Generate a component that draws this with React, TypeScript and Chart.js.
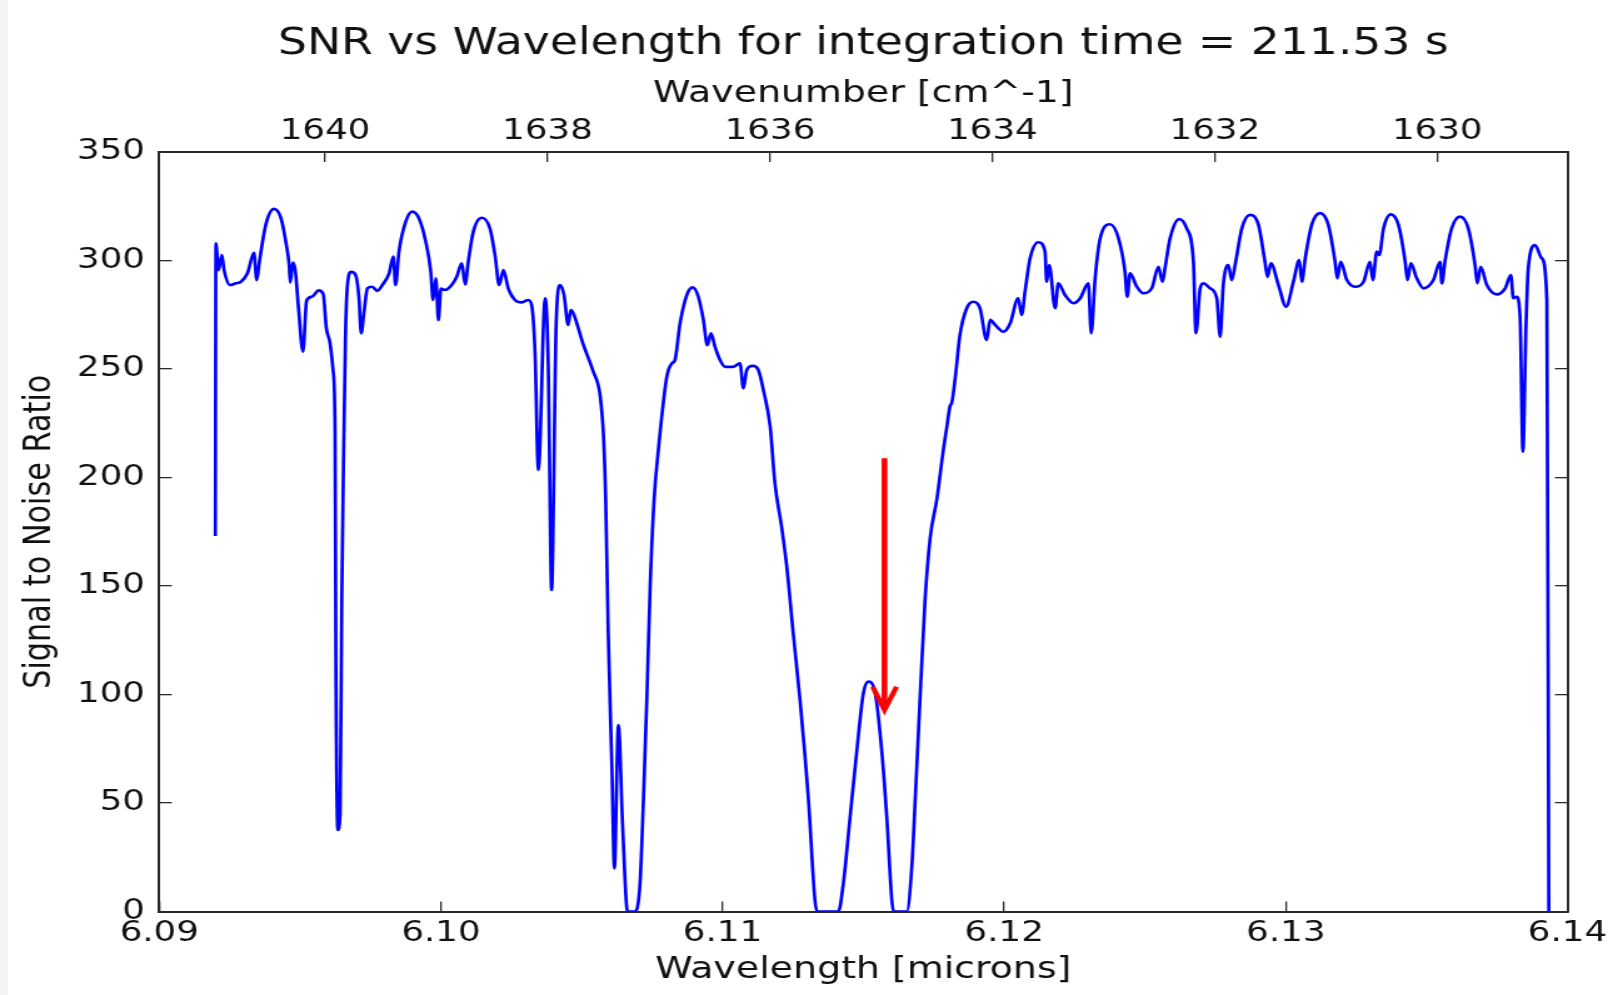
import React, { useEffect, useRef } from "react";
import { Chart, registerables } from "chart.js";

Chart.register(...registerables);

// ---------- DATA ----------
const WAVELENGTH = [
  6.09199, 6.09201, 6.0921, 6.09222, 6.0923, 6.09251, 6.09272, 6.0929, 6.09313, 6.09336,
  6.09346, 6.09356, 6.09379, 6.09407, 6.09432, 6.0945, 6.09461, 6.09465, 6.09474, 6.09483,
  6.09494, 6.0951, 6.09523, 6.09542, 6.09566, 6.09582, 6.09593, 6.09606, 6.09617, 6.09624,
  6.09627, 6.09634, 6.09642, 6.09648, 6.09654, 6.09661, 6.09668, 6.09681, 6.09697, 6.09709,
  6.09717, 6.09727, 6.09739, 6.09756, 6.09774, 6.09792, 6.09816, 6.09831, 6.09839, 6.09851,
  6.09875, 6.09898, 6.09922, 6.09946, 6.09964, 6.09972, 6.09982, 6.09991, 6.1, 6.10015,
  6.10038, 6.10056, 6.10074, 6.10086, 6.10097, 6.10115, 6.10145, 6.10174, 6.10192, 6.10207,
  6.10222, 6.10239, 6.10263, 6.10287, 6.1031, 6.10322, 6.10334, 6.10346, 6.1037, 6.10381,
  6.10393, 6.10409, 6.10423, 6.10437, 6.10452, 6.10461, 6.1047, 6.10506, 6.10541, 6.10565,
  6.10577, 6.10585, 6.10594, 6.10607, 6.10616, 6.1063, 6.10645, 6.1066, 6.10664, 6.10689,
  6.10707, 6.10719, 6.10731, 6.10743, 6.10757, 6.10772, 6.10802, 6.1082, 6.10831, 6.10849,
  6.10873, 6.10894, 6.10914, 6.10932, 6.10946, 6.10959, 6.10973, 6.10991, 6.11009, 6.11038,
  6.11062, 6.11074, 6.11086, 6.11107, 6.11127, 6.11145, 6.11169, 6.11186, 6.1121, 6.11228,
  6.11251, 6.11275, 6.11305, 6.11328, 6.11336, 6.11411, 6.11429, 6.11453, 6.11477, 6.115,
  6.11518, 6.11542, 6.11565, 6.11583, 6.11601, 6.11607, 6.11654, 6.11672, 6.11684, 6.11701,
  6.11719, 6.11737, 6.11761, 6.11784, 6.11796, 6.11808, 6.11814, 6.11826, 6.11843, 6.11867,
  6.11891, 6.11914, 6.11938, 6.1195, 6.11968, 6.11997, 6.12021, 6.1205, 6.12062, 6.12074,
  6.12092, 6.12121, 6.12145, 6.12151, 6.1216, 6.12181, 6.12192, 6.12216, 6.12246, 6.1227,
  6.12299, 6.12309, 6.12323, 6.12341, 6.12376, 6.12406, 6.12429, 6.12437, 6.12447, 6.12471,
  6.12494, 6.12524, 6.12548, 6.12562, 6.12571, 6.12589, 6.12622, 6.12648, 6.12672, 6.12681,
  6.12696, 6.12707, 6.12731, 6.12755, 6.12767, 6.12778, 6.12796, 6.12808, 6.1282, 6.12844,
  6.12873, 6.12903, 6.12926, 6.12935, 6.12947, 6.12974, 6.13001, 6.13027, 6.13048, 6.13057,
  6.13069, 6.13092, 6.13122, 6.13151, 6.13175, 6.13183, 6.13195, 6.13217, 6.13246, 6.13276,
  6.13299, 6.13309, 6.13323, 6.13332, 6.13347, 6.13373, 6.134, 6.13424, 6.13432, 6.13444,
  6.13465, 6.13489, 6.13524, 6.13548, 6.13554, 6.13566, 6.13589, 6.13619, 6.13648, 6.13672,
  6.1368, 6.13692, 6.13714, 6.13749, 6.13779, 6.13799, 6.13808, 6.1382, 6.13832, 6.13842,
  6.13853, 6.13861, 6.13885, 6.13909, 6.13927, 6.13934,
];

const SNR = [
  173.0, 307.9, 295.6, 302.5, 295.6, 288.7, 289.5, 290.2, 294.1, 303.5,
  291.0, 300.0, 317.0, 323.8, 319.5, 308.0, 298.0, 289.8, 299.0, 295.2,
  278.5, 258.0, 281.5, 283.3, 286.2, 284.5, 269.0, 262.0, 249.5, 222.0,
  113.0, 37.6, 45.3, 143.5, 206.5, 265.0, 288.5, 294.8, 293.3, 282.6,
  266.5, 276.4, 287.2, 287.9, 286.0, 288.7, 294.1, 301.8, 288.7, 304.1,
  317.9, 322.5, 319.4, 308.7, 294.8, 281.8, 291.8, 272.5, 287.0, 286.4,
  288.7, 292.5, 298.7, 289.0, 299.4, 313.3, 319.7, 314.8, 302.5, 288.7,
  295.6, 287.2, 281.8, 280.7, 281.8, 279.5, 258.0, 203.5, 282.6, 252.6,
  148.2, 270.0, 288.7, 284.1, 270.3, 277.2, 275.7, 261.1, 248.8, 238.0,
  219.6, 190.0, 128.2, 66.7, 19.9, 85.9, 40.0, 1.5, 0, 0,
  13.0, 51.4, 97.5, 150.0, 190.0, 212.7, 246.4, 252.6, 254.1, 271.0,
  284.1, 287.6, 283.3, 272.6, 261.0, 266.4, 260.3, 254.1, 251.0, 251.0,
  252.6, 241.1, 249.5, 251.4, 249.5, 240.3, 223.4, 197.3, 177.0, 158.9,
  128.2, 97.5, 51.4, 5.3, 0, 0, 13.0, 43.7, 74.4, 100.6,
  105.9, 100.6, 74.4, 43.7, 5.3, 0, 0, 20.6, 51.4, 97.5,
  143.5, 172.0, 190.0, 212.7, 223.0, 233.0, 234.5, 245.7, 265.7, 278.0,
  281.0, 278.0, 263.4, 272.6, 270.3, 267.2, 271.0, 282.6, 274.9, 285.6,
  301.0, 308.4, 304.1, 290.2, 297.9, 278.0, 289.5, 284.1, 280.3, 282.6,
  289.5, 266.5, 291.8, 310.2, 316.7, 310.2, 294.8, 283.3, 294.1, 287.9,
  284.9, 287.2, 297.1, 290.2, 296.4, 310.2, 319.1, 314.8, 299.4, 266.5,
  287.2, 289.5, 287.2, 282.6, 264.9, 288.7, 297.9, 291.0, 297.9, 314.8,
  321.0, 316.4, 299.4, 292.5, 298.7, 288.7, 278.7, 290.2, 300.2, 290.2,
  301.0, 316.4, 321.8, 316.4, 299.4, 291.8, 299.4, 291.0, 287.9, 290.2,
  299.4, 291.0, 304.1, 302.5, 314.8, 321.3, 316.4, 299.4, 291.0, 298.7,
  291.8, 287.2, 291.0, 299.4, 289.5, 300.2, 314.8, 320.2, 314.8, 297.9,
  289.5, 297.1, 288.7, 284.4, 287.2, 293.3, 282.6, 283.3, 273.4, 211.9,
  270.0, 296.4, 307.1, 301.0, 282.0, 0,
];

const X_TICKS = [6.09, 6.1, 6.11, 6.12, 6.13, 6.14];
const X_RANGE = [6.09, 6.14];
const Y_TICKS = [0, 50, 100, 150, 200, 250, 300, 350];
const Y_RANGE = [0, 350];
const WAVENUMBER_TICKS = [1630, 1632, 1634, 1636, 1638, 1640];
const WAVENUMBER_RANGE = [1628.83, 1641.49];

const ARROW_SHAFT_X = [6.11575, 6.11575];
const ARROW_SHAFT_Y = [208.9, 93.5];
const ARROW_HEAD_X = [6.11533, 6.11575, 6.11618];
const ARROW_HEAD_Y = [103.6, 92.9, 103.6];

const TITLE = "SNR vs Wavelength for integration time = 211.53 s";
const X_LABEL = "Wavelength [microns]";
const X_TOP_LABEL = "Wavenumber [cm^-1]";
const Y_LABEL = "Signal to Noise Ratio";

// ---------- LAYOUT ----------
const PAGE_W = 1608;
const PAGE_H = 995;
const CANVAS_W = 1286;
const SX = PAGE_W / CANVAS_W; // horizontal stretch of the original picture
const FRAME = { left: 159.3, right: 1567.4, top: 152, bottom: 911.5 };

export default function App() {
  const ref = useRef<HTMLCanvasElement>(null);

  useEffect(() => {
    const canvas = ref.current;
    if (!canvas) return;
    const family = "'DejaVu Sans', 'Bitstream Vera Sans', sans-serif";
    const axisColor = "#2b2b2b";
    const textColor = "#111111";
    const tickSize = 28.5;
    const labelSize = 30.3;
    const titleSize = 36.5;
    const titleLine = titleSize * 1.2;
    const titlePadTop = 44.6 - titleLine / 2;
    const titleBoxH = titleLine + titlePadTop;
    const leftW = FRAME.left / SX;
    const rightPad = CANVAS_W - FRAME.right / SX;
    const tickLen = -10;

    const grid = {
      drawOnChartArea: false,
      drawTicks: true,
      tickLength: tickLen,
      color: axisColor,
      lineWidth: 1.3,
    };
    const border = { display: true, color: axisColor, width: 2 };
    const noPad = (s: any) => {
      s.paddingLeft = 0;
      s.paddingRight = 0;
      s.paddingTop = 0;
      s.paddingBottom = 0;
    };

    const mainData = WAVELENGTH.map((x, i) => ({ x, y: SNR[i] }));
    const shaft = ARROW_SHAFT_X.map((x, i) => ({ x, y: ARROW_SHAFT_Y[i] }));
    const head = ARROW_HEAD_X.map((x, i) => ({ x, y: ARROW_HEAD_Y[i] }));

    const chart = new Chart(canvas, {
      type: "line",
      data: {
        datasets: [
          {
            data: shaft,
            borderColor: "#ff0000",
            borderWidth: 4.6,
            pointRadius: 0,
            tension: 0,
            borderCapStyle: "butt",
            order: 0,
          },
          {
            data: head,
            borderColor: "#ff0000",
            borderWidth: 4.2,
            pointRadius: 0,
            tension: 0,
            borderJoinStyle: "miter",
            borderCapStyle: "butt",
            order: 0,
          },
          {
            data: mainData,
            borderColor: "#0000ff",
            borderWidth: 2.7,
            pointRadius: 0,
            cubicInterpolationMode: "monotone",
            order: 1,
          },
        ],
      },
      options: {
        responsive: false,
        maintainAspectRatio: false,
        devicePixelRatio: 1,
        animation: false,
        events: [],
        layout: { padding: { left: 0, right: rightPad, top: 0, bottom: 0 } },
        plugins: {
          legend: { display: false },
          tooltip: { enabled: false },
          title: {
            display: true,
            text: TITLE,
            fullSize: false,
            color: textColor,
            font: { family, size: titleSize, weight: "normal" },
            padding: { top: titlePadTop, bottom: 0 },
          },
        },
        scales: {
          x: {
            type: "linear",
            position: "bottom",
            min: X_RANGE[0],
            max: X_RANGE[1],
            afterBuildTicks: (s: any) => {
              s.ticks = X_TICKS.map((v) => ({ value: v }));
            },
            afterFit: (s: any) => {
              s.height = PAGE_H - FRAME.bottom;
              noPad(s);
            },
            ticks: {
              color: textColor,
              font: { family, size: tickSize },
              padding: 15,
              maxRotation: 0,
              autoSkip: false,
              callback: (v: any) => Number(v).toFixed(2),
            },
            grid,
            border,
            title: {
              display: true,
              text: X_LABEL,
              color: textColor,
              font: { family, size: labelSize },
              padding: { top: 0, bottom: 6.5 },
            },
          },
          xTop: {
            type: "linear",
            axis: "x",
            position: "top",
            reverse: true,
            min: WAVENUMBER_RANGE[0],
            max: WAVENUMBER_RANGE[1],
            afterBuildTicks: (s: any) => {
              s.ticks = WAVENUMBER_TICKS.map((v) => ({ value: v }));
            },
            afterFit: (s: any) => {
              s.height = FRAME.top - titleBoxH;
              noPad(s);
            },
            ticks: {
              color: textColor,
              font: { family, size: tickSize },
              padding: 12.9,
              maxRotation: 0,
              autoSkip: false,
              callback: (v: any) => String(Math.round(Number(v))),
            },
            grid,
            border,
            title: {
              display: true,
              text: X_TOP_LABEL,
              color: textColor,
              font: { family, size: labelSize },
              padding: { top: 9, bottom: 0 },
            },
          },
          y: {
            type: "linear",
            position: "left",
            min: Y_RANGE[0],
            max: Y_RANGE[1],
            afterBuildTicks: (s: any) => {
              s.ticks = Y_TICKS.map((v) => ({ value: v }));
            },
            afterFit: (s: any) => {
              s.width = leftW;
              noPad(s);
            },
            ticks: {
              color: textColor,
              font: { family, size: tickSize },
              padding: 21.4,
              autoSkip: false,
              callback: (v: any) => String(v),
            },
            grid,
            border,
            title: {
              display: true,
              text: Y_LABEL,
              color: textColor,
              font: { family, size: labelSize },
              padding: { top: 14.3, bottom: 0 },
            },
          },
          yRight: {
            type: "linear",
            axis: "y",
            position: "right",
            min: Y_RANGE[0],
            max: Y_RANGE[1],
            afterBuildTicks: (s: any) => {
              s.ticks = Y_TICKS.map((v) => ({ value: v }));
            },
            afterFit: (s: any) => {
              s.width = 0;
              noPad(s);
            },
            ticks: { display: false },
            grid,
            border,
          },
        },
      },
    } as any);

    return () => chart.destroy();
  }, []);

  return (
    <div
      style={{
        position: "fixed",
        left: 0,
        top: 0,
        width: PAGE_W,
        height: PAGE_H,
        background: "linear-gradient(to right, #f3f3f3 0px, #f3f3f3 8px, #ffffff 8px)",
        overflow: "hidden",
      }}
    >
      <canvas
        ref={ref}
        width={CANVAS_W}
        height={PAGE_H}
        style={{
          display: "block",
          width: CANVAS_W,
          height: PAGE_H,
          transform: `scaleX(${SX})`,
          transformOrigin: "0 0",
        }}
      />
    </div>
  );
}
